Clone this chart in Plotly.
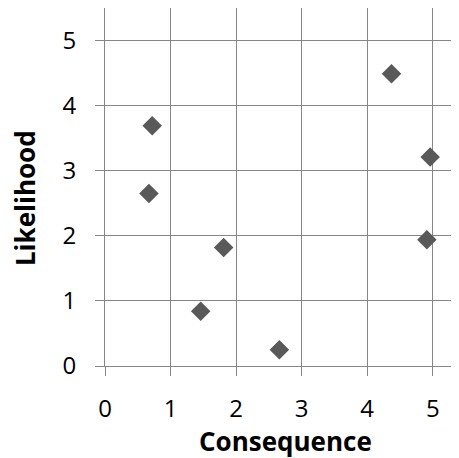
import plotly.graph_objects as go

consequence = [0.72, 0.67, 1.81, 1.46, 2.66, 4.37, 4.96, 4.91]
likelihood = [3.69, 2.65, 1.82, 0.84, 0.25, 4.49, 3.21, 1.94]

x_ticks = [0, 1, 2, 3, 4, 5]
y_ticks = [0, 1, 2, 3, 4, 5]

grid = "#868686"
font_family = "Open Sans"

fig = go.Figure()
fig.add_trace(go.Scatter(
    x=consequence, y=likelihood, mode="markers",
    marker=dict(symbol="diamond", size=15, color="#595959", line=dict(width=0)),
    showlegend=False,
))

fig.update_layout(
    width=451, height=450,
    margin=dict(l=97, r=0, t=0, b=92, autoexpand=False),
    plot_bgcolor="white", paper_bgcolor="white",
    font=dict(family=font_family, color="black"),
    xaxis=dict(
        range=[0, 5.4], tickvals=x_ticks, showgrid=True, gridcolor=grid, gridwidth=1,
        showline=True, linecolor=grid, linewidth=1, ticks="outside", ticklen=9,
        tickcolor=grid, zeroline=False, tickfont=dict(size=24), ticklabelstandoff=12,
    ),
    yaxis=dict(
        range=[0, 5.5], tickvals=y_ticks, showgrid=True, gridcolor=grid, gridwidth=1,
        showline=True, linecolor=grid, linewidth=1, ticks="outside", ticklen=9,
        tickcolor=grid, zeroline=False, tickfont=dict(size=24), ticklabelstandoff=14,
    ),
    annotations=[
        dict(text="<b>Consequence</b>", xref="paper", yref="paper", x=0.51, y=-0.21,
             xanchor="center", yanchor="middle", showarrow=False, font=dict(size=26)),
        dict(text="<b>Likelihood</b>", xref="paper", yref="paper", x=-0.226, y=0.469,
             xanchor="center", yanchor="middle", showarrow=False, textangle=-90,
             font=dict(size=26)),
    ],
)

fig.write_html("out.html")
